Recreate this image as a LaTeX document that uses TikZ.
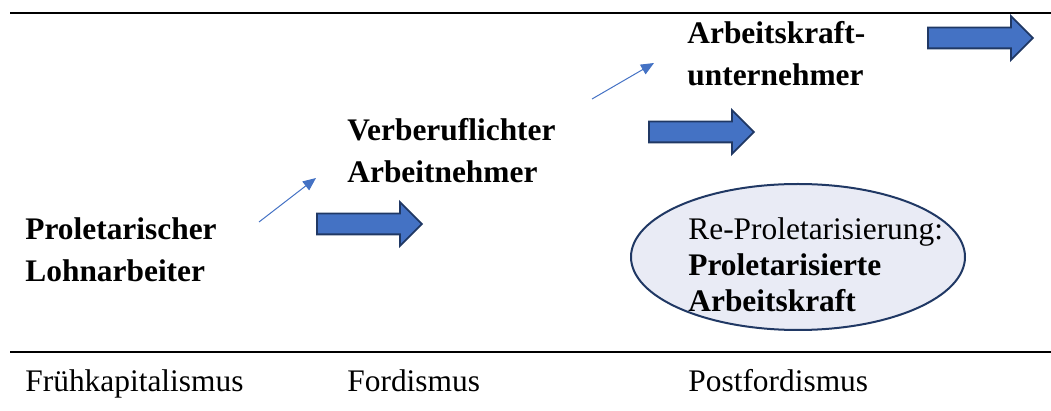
\documentclass[tikz,border=0pt]{standalone}
\usepackage{fontspec}
\setmainfont{Liberation Serif}
\usepackage{xcolor}
\usepackage{tikz}
\usetikzlibrary{positioning, arrows.meta, shapes.arrows, shapes.geometric}
\definecolor{arrowblue}{HTML}{4472C4}
\definecolor{arrowedge}{HTML}{203864}
\definecolor{bubblefill}{HTML}{E9EBF5}
\tikzset{
	line width = .75pt,
	font = \fontsize{15.7}{21}\selectfont,
	caption/.style={
		inner sep=0pt,
		anchor=base west,
		align=left
	},
	stage/.style={
		caption,
		font=\fontsize{15.7}{21}\selectfont\bfseries
	},
	block arrow/.style={
		single arrow,
		draw=arrowedge,
		fill=arrowblue,
		line width=.9pt,
		inner xsep=0pt,
		inner ysep=4.75pt,
		single arrow head extend=5.75pt,
		minimum height=52.5pt,
		anchor=tail
	},
	hint/.style={
		draw=arrowblue,
		line width=.5pt,
		arrows = {-Triangle[length=6.5pt, width=5.5pt]}
	},
	bubble/.style={
		ellipse,
		draw=arrowedge,
		fill=bubblefill,
		line width=1pt,
		inner sep=0pt,
		minimum width=167pt,
		minimum height=73pt
	},
	rule/.style={
		line width=1pt
	}
}

\begin{document}
\begin{tikzpicture}[x=0.5pt, y=-0.5pt]
	\useasboundingbox (0,0) rectangle (1051,411);
\draw[rule] (10,13) -- (1051,13);
\draw[rule] (10,352) -- (1051,352);

% base anchor sits on the last line
\node[stage] (proletarian) at (25,282) {Proletarischer\\Lohnarbeiter};
\node[stage] (professional) at (347,183) {Verberuflichter\\Arbeitnehmer};
\node[stage] (entrepreneur) at (687,86) {Arbeitskraft-\\unternehmer};

\node[block arrow] (shift1) at (316,224) {};
\node[block arrow] (shift2) at (648,132) {};
\node[block arrow] (shift3) at (927,38) {};

\coordinate (rise1 from) at (259,222);
\coordinate (rise1 to) at (316,178);
\coordinate (rise2 from) at (592,99);
\coordinate (rise2 to) at (654,63);
\draw[hint] (rise1 from) -- (rise1 to);
\draw[hint] (rise2 from) -- (rise2 to);

\node[bubble] (reprol) at (798,257) {};
\node[caption, font=\fontsize{15.7}{18}\selectfont] (reproltext) at (688,312)
	{Re-Proletarisierung:\\\textbf{Proletarisierte}\\\textbf{Arbeitskraft}};

\node[caption] (early) at (25,392) {Frühkapitalismus};
\node[caption] (fordism) at (347,392) {Fordismus};
\node[caption] (postfordism) at (688,392) {Postfordismus};
	\end{tikzpicture}
\end{document}
